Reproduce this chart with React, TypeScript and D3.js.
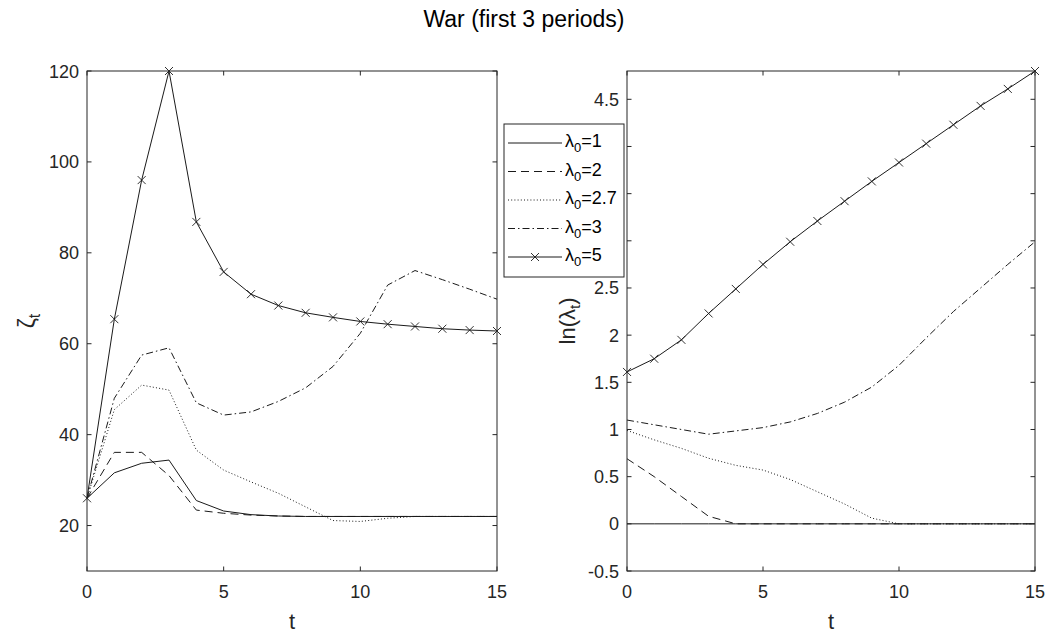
import React from "react";
import * as d3 from "d3";

const tValues = [0, 1, 2, 3, 4, 5, 6, 7, 8, 9, 10, 11, 12, 13, 14, 15];

// zeta_t (left panel)
const zeta1 = [26, 31.6, 33.7, 34.4, 25.5, 23.2, 22.4, 22.1, 22, 22, 22, 22, 22, 22, 22, 22];
const zeta2 = [26, 36.1, 36.1, 31, 23.4, 22.7, 22.3, 22.1, 22, 22, 22, 22, 22, 22, 22, 22];
const zeta27 = [26, 45.5, 50.9, 49.8, 36.6, 32.2, 29.6, 27.1, 24.1, 21.1, 20.9, 21.6, 22, 22, 22, 22];
const zeta3 = [26, 48, 57.5, 59.1, 47, 44.3, 45, 47.3, 50.3, 55, 62.3, 72.9, 76.1, 74.1, 72, 69.8];
const zeta5 = [26, 65.4, 96, 120, 86.8, 75.8, 70.9, 68.4, 66.8, 65.8, 64.9, 64.3, 63.8, 63.3, 63.0, 62.8];

// ln(lambda_t) (right panel)
const lnlam1 = [0, 0, 0, 0, 0, 0, 0, 0, 0, 0, 0, 0, 0, 0, 0, 0];
const lnlam2 = [0.69, 0.5, 0.29, 0.08, 0, 0, 0, 0, 0, 0, 0, 0, 0, 0, 0, 0];
const lnlam27 = [0.99, 0.89, 0.8, 0.695, 0.62, 0.57, 0.47, 0.34, 0.21, 0.06, 0, 0, 0, 0, 0, 0];
const lnlam3 = [1.1, 1.05, 1.0, 0.95, 0.985, 1.02, 1.08, 1.17, 1.29, 1.45, 1.68, 1.97, 2.25, 2.5, 2.75, 2.99];
const lnlam5 = [1.61, 1.75, 1.95, 2.23, 2.49, 2.75, 2.99, 3.21, 3.42, 3.63, 3.83, 4.03, 4.23, 4.43, 4.61, 4.8];

const seriesLabels = ["1", "2", "2.7", "3", "5"];
const xTicks = [0, 5, 10, 15];
const leftYTicks = [20, 40, 60, 80, 100, 120];
const rightYTicks = [-0.5, 0, 0.5, 1, 1.5, 2, 2.5, 3, 3.5, 4, 4.5];

const titleText = "War (first 3 periods)";

const styles = [
  { dash: undefined, marker: false },
  { dash: "8,5", marker: false },
  { dash: "1,2.2", marker: false },
  { dash: "7,3,1.5,3", marker: false },
  { dash: undefined, marker: true },
];

const AX = "#262626";
const LINE = "#1a1a1a";
const FONT = "'Liberation Sans', Arial, Helvetica, sans-serif";
const TICK_FS = 18;

const LEG = { x: 504, y: 124, w: 120, h: 153 };

function Cross({ x, y }: { x: number; y: number }) {
  const s = 4;
  return (
    <path
      d={`M${x - s},${y - s}L${x + s},${y + s}M${x - s},${y + s}L${x + s},${y - s}`}
      stroke={LINE}
      strokeWidth={0.9}
      fill="none"
    />
  );
}

function Panel({
  x0, x1, y0, y1, yDomain, yTicks, series, avoidLegend,
}: {
  x0: number; x1: number; y0: number; y1: number;
  yDomain: [number, number]; yTicks: number[]; series: number[][];
  avoidLegend: boolean;
}) {
  const xs = d3.scaleLinear().domain([0, 15]).range([x0, x1]);
  const ys = d3.scaleLinear().domain(yDomain).range([y1, y0]);
  const line = d3
    .line<number>()
    .x((_, i) => xs(tValues[i]))
    .y((d) => ys(d));
  const tl = 4.5;
  return (
    <g>
      {series.map((s, k) => (
        <g key={k}>
          <path
            d={line(s) || ""}
            fill="none"
            stroke={LINE}
            strokeWidth={1}
            strokeDasharray={styles[k].dash}
          />
          {styles[k].marker &&
            s.map((v, i) => <Cross key={i} x={xs(tValues[i])} y={ys(v)} />)}
        </g>
      ))}
      <rect x={x0} y={y0} width={x1 - x0} height={y1 - y0} fill="none" stroke={AX} strokeWidth={1} />
      {xTicks.map((t) => (
        <g key={t}>
          <line x1={xs(t)} x2={xs(t)} y1={y1} y2={y1 - tl} stroke={AX} />
          <line x1={xs(t)} x2={xs(t)} y1={y0} y2={y0 + tl} stroke={AX} />
          <text x={xs(t)} y={y1 + 27} textAnchor="middle" fontSize={TICK_FS} fill={AX}>
            {t}
          </text>
        </g>
      ))}
      {yTicks.map((v) => {
        const yy = ys(v);
        const hidden = avoidLegend && yy > LEG.y - 4 && yy < LEG.y + LEG.h + 4;
        return (
          <g key={v}>
            <line x1={x0} x2={x0 + tl} y1={yy} y2={yy} stroke={AX} />
            <line x1={x1} x2={x1 - tl} y1={yy} y2={yy} stroke={AX} />
            {!hidden && (
              <text x={x0 - 8} y={yy + 6.5} textAnchor="end" fontSize={TICK_FS} fill={AX}>
                {String(v)}
              </text>
            )}
          </g>
        );
      })}
      <text x={(x0 + x1) / 2} y={629} textAnchor="middle" fontSize={22} fill={AX}>
        t
      </text>
    </g>
  );
}

export default function App() {
  const L = { x0: 87, x1: 497, y0: 71, y1: 571 };
  const R = { x0: 627, x1: 1035, y0: 71, y1: 571 };
  const rowYs = seriesLabels.map((_, i) => 143 + i * 28.5);
  return (
    <svg
      width={1048}
      height={635}
      style={{ position: "absolute", left: 0, top: 0, background: "#fff" }}
      fontFamily={FONT}
    >
      <rect x={0} y={0} width={1048} height={635} fill="#fff" />
      <text x={524} y={27} textAnchor="middle" fontSize={23} fill="#000">
        {titleText}
      </text>
      <Panel
        {...L}
        yDomain={[10, 120]}
        yTicks={leftYTicks}
        series={[zeta1, zeta2, zeta27, zeta3, zeta5]}
        avoidLegend={false}
      />
      <Panel
        {...R}
        yDomain={[-0.5, 4.8]}
        yTicks={rightYTicks}
        series={[lnlam1, lnlam2, lnlam27, lnlam3, lnlam5]}
        avoidLegend={true}
      />
      <text transform="translate(35,321) rotate(-90)" textAnchor="middle" fontSize={23} fill={AX}>
        ζ<tspan fontSize={16} dy={5}>t</tspan>
      </text>
      <text transform="translate(575,321) rotate(-90)" textAnchor="middle" fontSize={22} fill={AX}>
        ln(λ<tspan fontSize={15} dy={5}>t</tspan>
        <tspan dy={-5}>)</tspan>
      </text>
      <rect x={LEG.x} y={LEG.y} width={LEG.w} height={LEG.h} fill="#fff" stroke={AX} strokeWidth={1} />
      {seriesLabels.map((lab, i) => (
        <g key={lab}>
          <line
            x1={508}
            x2={562}
            y1={rowYs[i]}
            y2={rowYs[i]}
            stroke={LINE}
            strokeWidth={1}
            strokeDasharray={styles[i].dash}
          />
          {styles[i].marker && <Cross x={535} y={rowYs[i]} />}
          <text x={565} y={rowYs[i] + 4} fontSize={18} fill="#000">
            λ<tspan fontSize={13} dy={5}>0</tspan>
            <tspan dy={-5}>={lab}</tspan>
          </text>
        </g>
      ))}
    </svg>
  );
}
